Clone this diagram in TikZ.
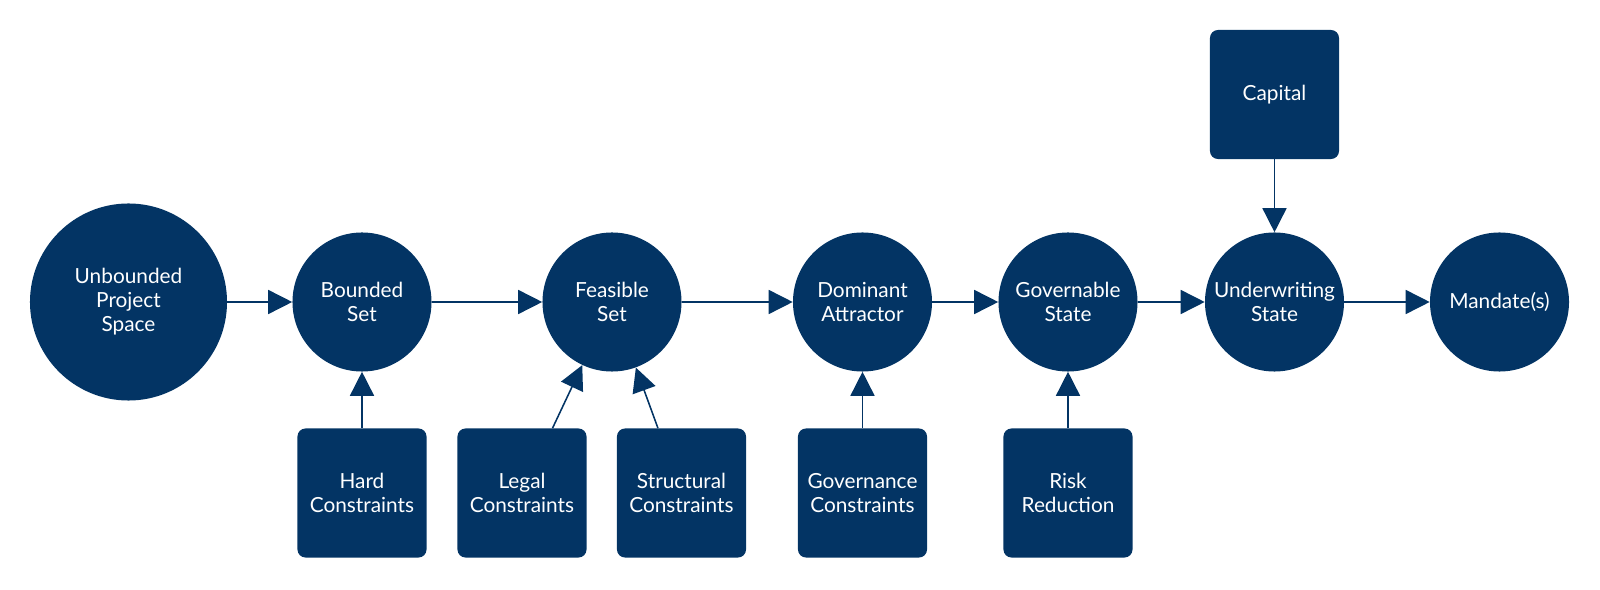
\documentclass[tikz,border=0pt]{standalone}
\usepackage{fontspec}
\setmainfont{Lato}
\usetikzlibrary{arrows.meta}
\definecolor{navy}{RGB}{3,52,100}
\tikzset{
  state/.style={circle, fill=navy, text=white, minimum size=3.475cm, inner sep=0pt,
    align=center, font=\fontsize{14.8}{17}\selectfont},
  factor/.style={rectangle, rounded corners=0.2cm, fill=navy, text=white,
    minimum size=3.225cm, inner sep=0pt, align=center, font=\fontsize{14.8}{17}\selectfont},
  flow/.style={draw=navy, line width=1.1pt, -{Triangle[length=0.6cm,width=0.6cm]}},
}
\begin{document}
\begin{tikzpicture}[x=0.025cm, y=-0.025cm]
    \useasboundingbox (0,0) rectangle (1600,590);

    % main chain of states
    \node[state, minimum size=4.925cm] (space) at (128.5,302) {Unbounded\\Project\\Space};
    \node[state] (bounded) at (362,302) {Bounded\\Set};
    \node[state] (feasible) at (612,302) {Feasible\\Set};
    \node[state] (attractor) at (862.5,302) {Dominant\\Attractor};
    \node[state] (governable) at (1068,302) {Governable\\State};
    \node[state] (underwriting) at (1274.5,302) {Underwriting\\State};
    \node[state] (mandate) at (1499.5,302) {Mandate(s)};

    % inputs
    \node[factor] (hard) at (362,493) {Hard\\Constraints};
    \node[factor] (legal) at (522,493) {Legal\\Constraints};
    \node[factor] (structural) at (681.5,493) {Structural\\Constraints};
    \node[factor] (governance) at (862.5,493) {Governance\\Constraints};
    \node[factor] (risk) at (1068,493) {Risk\\Reduction};
    \node[factor] (capital) at (1274.5,94.5) {Capital};

    % arrows along the chain
    \draw[flow] (space) -- (bounded);
    \draw[flow] (bounded) -- (feasible);
    \draw[flow] (feasible) -- (attractor);
    \draw[flow] (attractor) -- (governable);
    \draw[flow] (governable) -- (underwriting);
    \draw[flow] (underwriting) -- (mandate);

    % arrows from the inputs
    \draw[flow] (hard) -- (bounded);
    \draw[flow] (legal) -- (feasible);
    \draw[flow] (structural) -- (feasible);
    \draw[flow] (governance) -- (attractor);
    \draw[flow] (risk) -- (governable);
    \draw[flow] (capital) -- (underwriting);
\end{tikzpicture}
\end{document}
